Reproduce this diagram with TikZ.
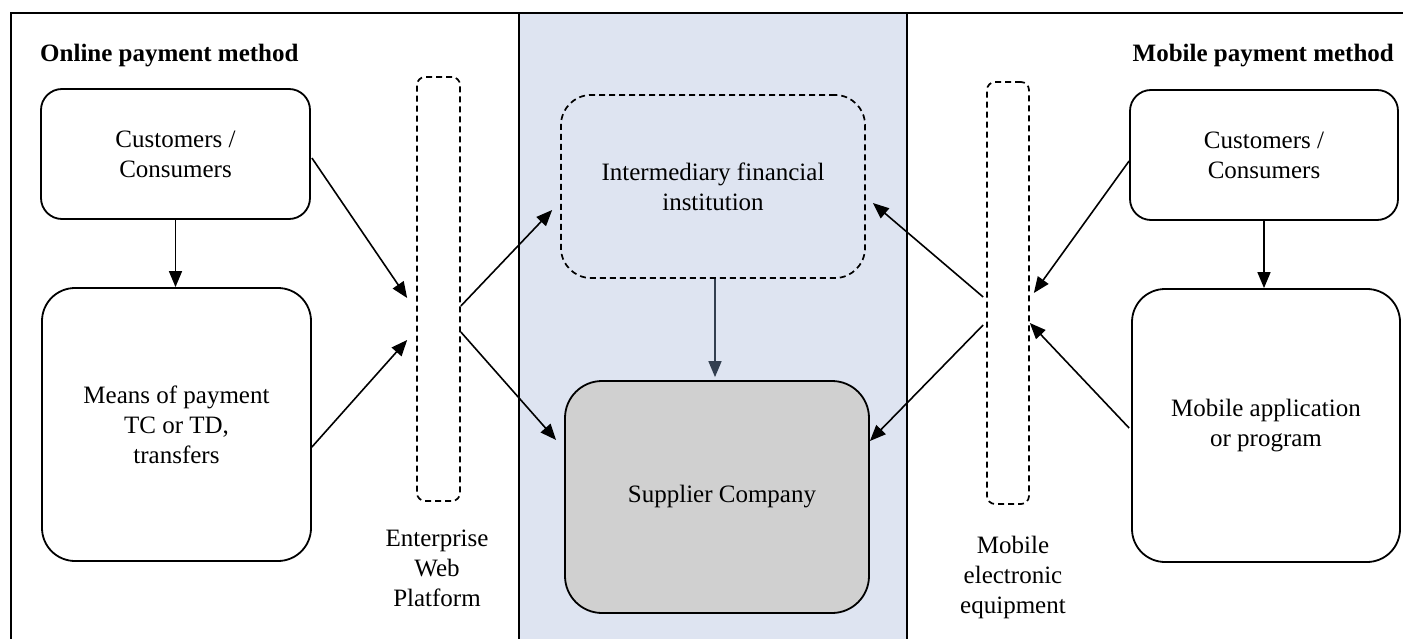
\documentclass[tikz,border=0pt]{standalone}
\usepackage{fontspec}
\setmainfont{Liberation Serif}
\usetikzlibrary{arrows.meta,calc}
\definecolor{panel}{RGB}{222,228,241}
\definecolor{supfill}{RGB}{208,208,208}
\definecolor{darkarrow}{RGB}{51,63,80}
\begin{document}
\begin{tikzpicture}[x=1pt,y=-1pt,
  txt/.style={font=\fontsize{25}{30}\selectfont, align=center},
  box/.style={draw, line width=1.8pt, rounded corners=#1, inner sep=0pt, txt},
  dbox/.style={draw, line width=1.7pt, dash pattern=on 6pt off 4pt, rounded corners=#1, inner sep=0pt},
  arr/.style={line width=1.6pt, -{Triangle[length=16pt,width=13pt]}},
  frameline/.style={line width=2pt},
  panelline/.style={line width=2.4pt},
]
\useasboundingbox (0,0) rectangle (1403,639);
% center panel
\fill[panel] (519,13) rectangle (907,639);
\draw[frameline] (11,639) -- (11,13) -- (1403,13);
\draw[panelline] (519,13) -- (519,639);
\draw[panelline] (907,13) -- (907,639);

% titles
\node[txt, inner sep=0pt, anchor=base west, font=\fontsize{25}{30}\selectfont\bfseries] (t1) at (40,62) {Online payment method};
\node[txt, inner sep=0pt, anchor=base east, font=\fontsize{25}{30}\selectfont\bfseries] (t2) at (1394,62) {Mobile payment method};

% left column
\node[box=21pt, minimum width=269pt, minimum height=130pt] (cl) at (175.5,154) {Customers /\\Consumers};
\node[box=33pt, minimum width=269pt, minimum height=273pt] (ml) at (176.5,424.5) {Means of payment\\TC or TD,\\transfers};

% web platform
\node[dbox=8pt, minimum width=43pt, minimum height=424pt] (web) at (438.5,289) {};
\node[txt] (webl) at (437,568) {Enterprise\\Web\\Platform};

% center
\node[dbox=30pt, minimum width=304pt, minimum height=183pt, txt] (inter) at (713,186.5) {Intermediary financial\\institution};
\node[box=37pt, fill=supfill, minimum width=304pt, minimum height=232pt] (sup) at (717,497) {\hspace*{10pt}Supplier Company};

% mobile equipment
\node[dbox=8pt, minimum width=42pt, minimum height=422pt] (mob) at (1008,293) {};
\node[txt] (mobl) at (1013,577) {Mobile\\electronic\\equipment};

% right column
\node[box=21pt, minimum width=268pt, minimum height=130pt] (cr) at (1264,155) {Customers /\\Consumers};
\node[box=33pt, minimum width=268pt, minimum height=273pt] (ma) at (1266,425.5) {Mobile application\\or program};

% arrows left
\draw[arr] (cl.south) -- (cl.south |- ml.north);
\draw[arr] ($(cl.east)+(1,4)$) -- ($(web.west)+(-9,9)$);
\draw[arr] ($(ml.east)+(0,22.5)$) -- ($(web.west)+(-9,51)$);
\draw[arr] ($(web.east)+(0,17)$) -- ($(inter.west)+(-8,23.5)$);
\draw[arr] ($(web.east)+(0,43)$) -- ($(sup.west)+(-8,-57)$);

% center arrow
\draw[arr, darkarrow] ($(inter.south)+(2,0)$) -- ($(inter.south |- sup.north)+(2,-3)$);

% arrows right
\draw[arr] (cr.south) -- (cr.south |- ma.north);
\draw[arr] ($(cr.west)+(0,6)$) -- ($(mob.east)+(4,0)$);
\draw[arr] ($(ma.west)+(-2,2.5)$) -- ($(mob.east)+(0,30)$);
\draw[arr] ($(mob.west)+(-3,4)$) -- ($(inter.east)+(7,16.5)$);
\draw[arr] ($(mob.west)+(-3,32)$) -- ($(sup.east)+(0,-56)$);
\end{tikzpicture}
\end{document}
